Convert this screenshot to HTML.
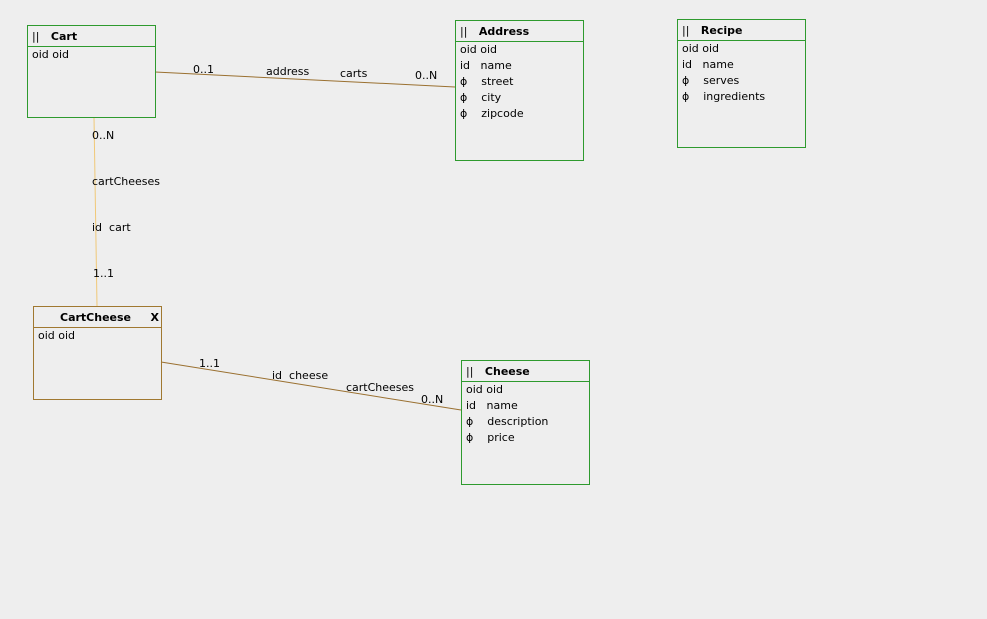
<html><head><style>
body{margin:0;width:987px;height:619px;background:#eeeeee;position:relative;overflow:hidden;font-family:"DejaVu Sans","Liberation Sans",sans-serif;font-size:11px;color:#000}
.b{position:absolute;border:1px solid #2e9a2e;box-sizing:border-box}
.h{height:20px;border-bottom:1px solid #2e9a2e;font-weight:bold;line-height:22px;padding-left:4px;white-space:pre}
.h i{font-style:normal;font-weight:normal}
.r{line-height:16px;padding-left:4px;white-space:pre}
.t{position:absolute;white-space:pre}
</style></head><body>
<svg width="987" height="619" style="position:absolute;left:0;top:0">
<line x1="155" y1="72" x2="455" y2="87" stroke="#9a7030" stroke-width="1"/>
<line x1="94" y1="117" x2="97" y2="306" stroke="#f0c878" stroke-width="1"/>
<line x1="161" y1="362" x2="461" y2="410" stroke="#9a7030" stroke-width="1"/>
</svg>
<div class="b" style="left:27px;top:25px;width:129px;height:93px;border-color:#2e9a2e"><div class="h"><i>||</i>   Cart</div><div class="r">oid oid</div></div>
<div class="b" style="left:455px;top:20px;width:129px;height:141px"><div class="h"><i>||</i>   Address</div><div class="r">oid oid</div><div class="r">id   name</div><div class="r">ϕ    street</div><div class="r">ϕ    city</div><div class="r">ϕ    zipcode</div></div>
<div class="b" style="left:677px;top:19px;width:129px;height:129px;border-color:#2e9a2e"><div class="h"><i>||</i>   Recipe</div><div class="r">oid oid</div><div class="r">id   name</div><div class="r">ϕ    serves</div><div class="r">ϕ    ingredients</div></div>
<div class="b" style="left:33px;top:306px;width:129px;height:94px;border-color:#a07830"><div class="h" style="border-color:#a07830;padding-left:26px">CartCheese<span style="position:absolute;right:2px">X</span></div><div class="r">oid oid</div></div>
<div class="b" style="left:461px;top:360px;width:129px;height:125px"><div class="h"><i>||</i>   Cheese</div><div class="r">oid oid</div><div class="r">id   name</div><div class="r">ϕ    description</div><div class="r">ϕ    price</div></div>
<div class="t" style="left:193px;top:63px">0..1</div>
<div class="t" style="left:266px;top:65px">address</div>
<div class="t" style="left:340px;top:67px">carts</div>
<div class="t" style="left:415px;top:69px">0..N</div>
<div class="t" style="left:92px;top:129px">0..N</div>
<div class="t" style="left:92px;top:175px">cartCheeses</div>
<div class="t" style="left:92px;top:221px">id  cart</div>
<div class="t" style="left:93px;top:267px">1..1</div>
<div class="t" style="left:199px;top:357px">1..1</div>
<div class="t" style="left:272px;top:369px">id  cheese</div>
<div class="t" style="left:346px;top:381px">cartCheeses</div>
<div class="t" style="left:421px;top:393px">0..N</div>
</body></html>
